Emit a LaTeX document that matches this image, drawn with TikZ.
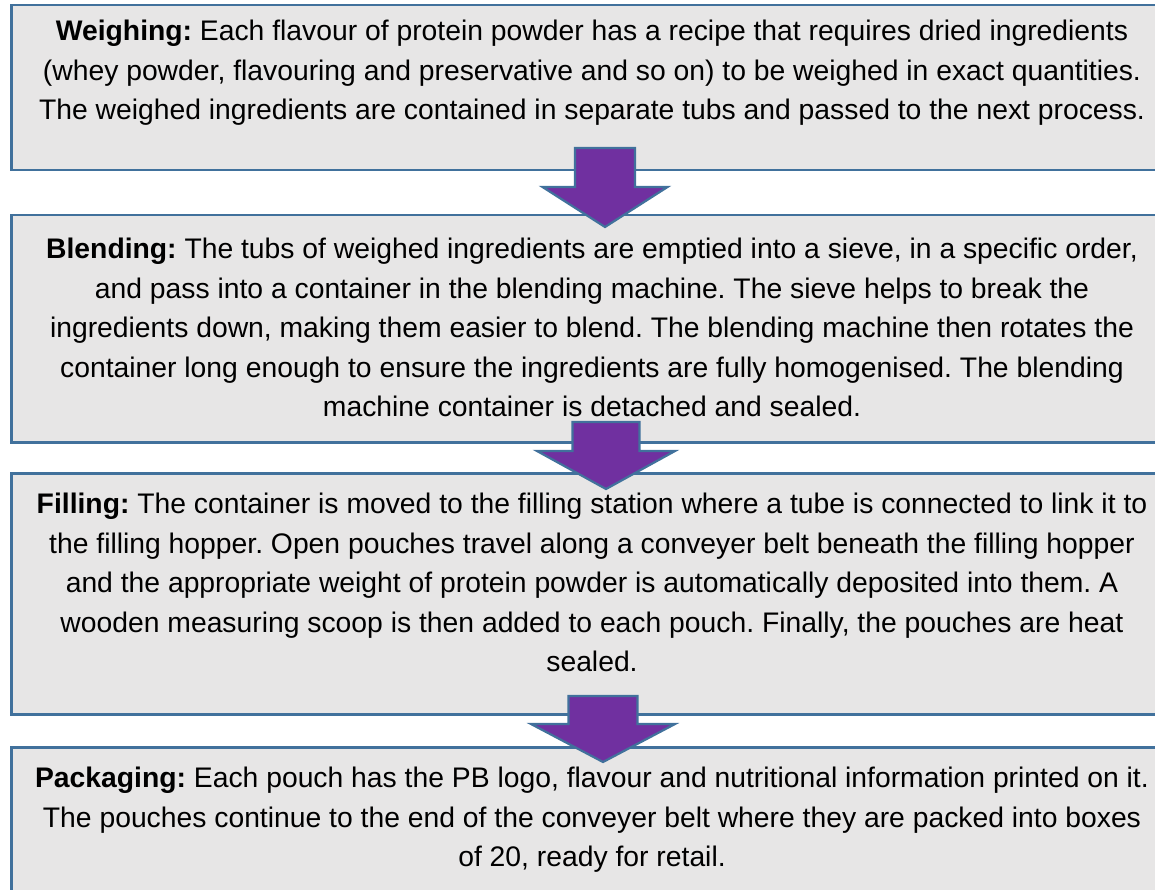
\documentclass[tikz,border=0pt]{standalone}
\usepackage{fontspec}
\setmainfont{Liberation Sans}
\frenchspacing
\definecolor{boxfill}{HTML}{E7E6E6}
\definecolor{boxline}{HTML}{41719C}
\definecolor{arrowfill}{HTML}{7030A0}
\tikzset{
  stagebox/.style={draw=boxline, fill=boxfill, line width=2.5pt, rectangle, inner sep=0pt, anchor=north west},
  stagetext/.style={align=center, inner sep=0pt, anchor=north, text=black,
    font=\frenchspacing\fontsize{28.3}{39.5}\selectfont},
  arrowshape/.style={draw=boxline, fill=arrowfill, line width=2.2pt, line join=miter}
}
% block arrow: centre x, shaft half width, head half width, shaft top, head base, tip
\newcommand\blockarrow[6]{%
  \draw[arrowshape] ({#1-#2},#4) -- ({#1+#2},#4) -- ({#1+#2},#5) -- ({#1+#3},#5)
    -- (#1,#6) -- ({#1-#3},#5) -- ({#1-#2},#5) -- cycle;}
\begin{document}
\begin{tikzpicture}[x=1pt,y=-1pt]
\useasboundingbox (0,0) rectangle (1155,890);
\clip (0,0) rectangle (1155,890);

% process stages
\node[stagebox, minimum width=1160pt, minimum height=165pt] (weigh) at (10,4) {};
\node[stagebox, minimum width=1160pt, minimum height=227pt] (blend) at (10,214) {};
\node[stagebox, minimum width=1160pt, minimum height=241pt] (fill) at (10,472) {};
\node[stagebox, minimum width=1160pt, minimum height=170pt] (pack) at (10,746) {};

\node[stagetext] (weightext) at (592,20) {\textbf{Weighing:} Each flavour of protein powder has a recipe that requires dried ingredients\\
(whey powder, flavouring and preservative and so on) to be weighed in exact quantities.\\
The weighed ingredients are contained in separate tubs and passed to the next process.};

\node[stagetext] (blendtext) at (592,238) {\textbf{Blending:} The tubs of weighed ingredients are emptied into a sieve, in a specific order,\\
and pass into a container in the blending machine. The sieve helps to break the\\
ingredients down, making them easier to blend. The blending machine then rotates the\\
container long enough to ensure the ingredients are fully homogenised. The blending\\
machine container is detached and sealed.};

\node[stagetext] (filltext) at (592,493) {\textbf{Filling:} The container is moved to the filling station where a tube is connected to link it to\\
the filling hopper. Open pouches travel along a conveyer belt beneath the filling hopper\\
and the appropriate weight of protein powder is automatically deposited into them. A\\
wooden measuring scoop is then added to each pouch. Finally, the pouches are heat\\
sealed.};

\node[stagetext] (packtext) at (592,767) {\textbf{Packaging:} Each pouch has the PB logo, flavour and nutritional information printed on it.\\
The pouches continue to the end of the conveyer belt where they are packed into boxes\\
of 20, ready for retail.};

% flow arrows between stages
\blockarrow{605}{30}{62.5}{148}{187}{227}
\blockarrow{606}{33.5}{69}{422}{451}{489}
\blockarrow{603}{34.5}{72}{696}{724}{762}
\end{tikzpicture}
\end{document}
